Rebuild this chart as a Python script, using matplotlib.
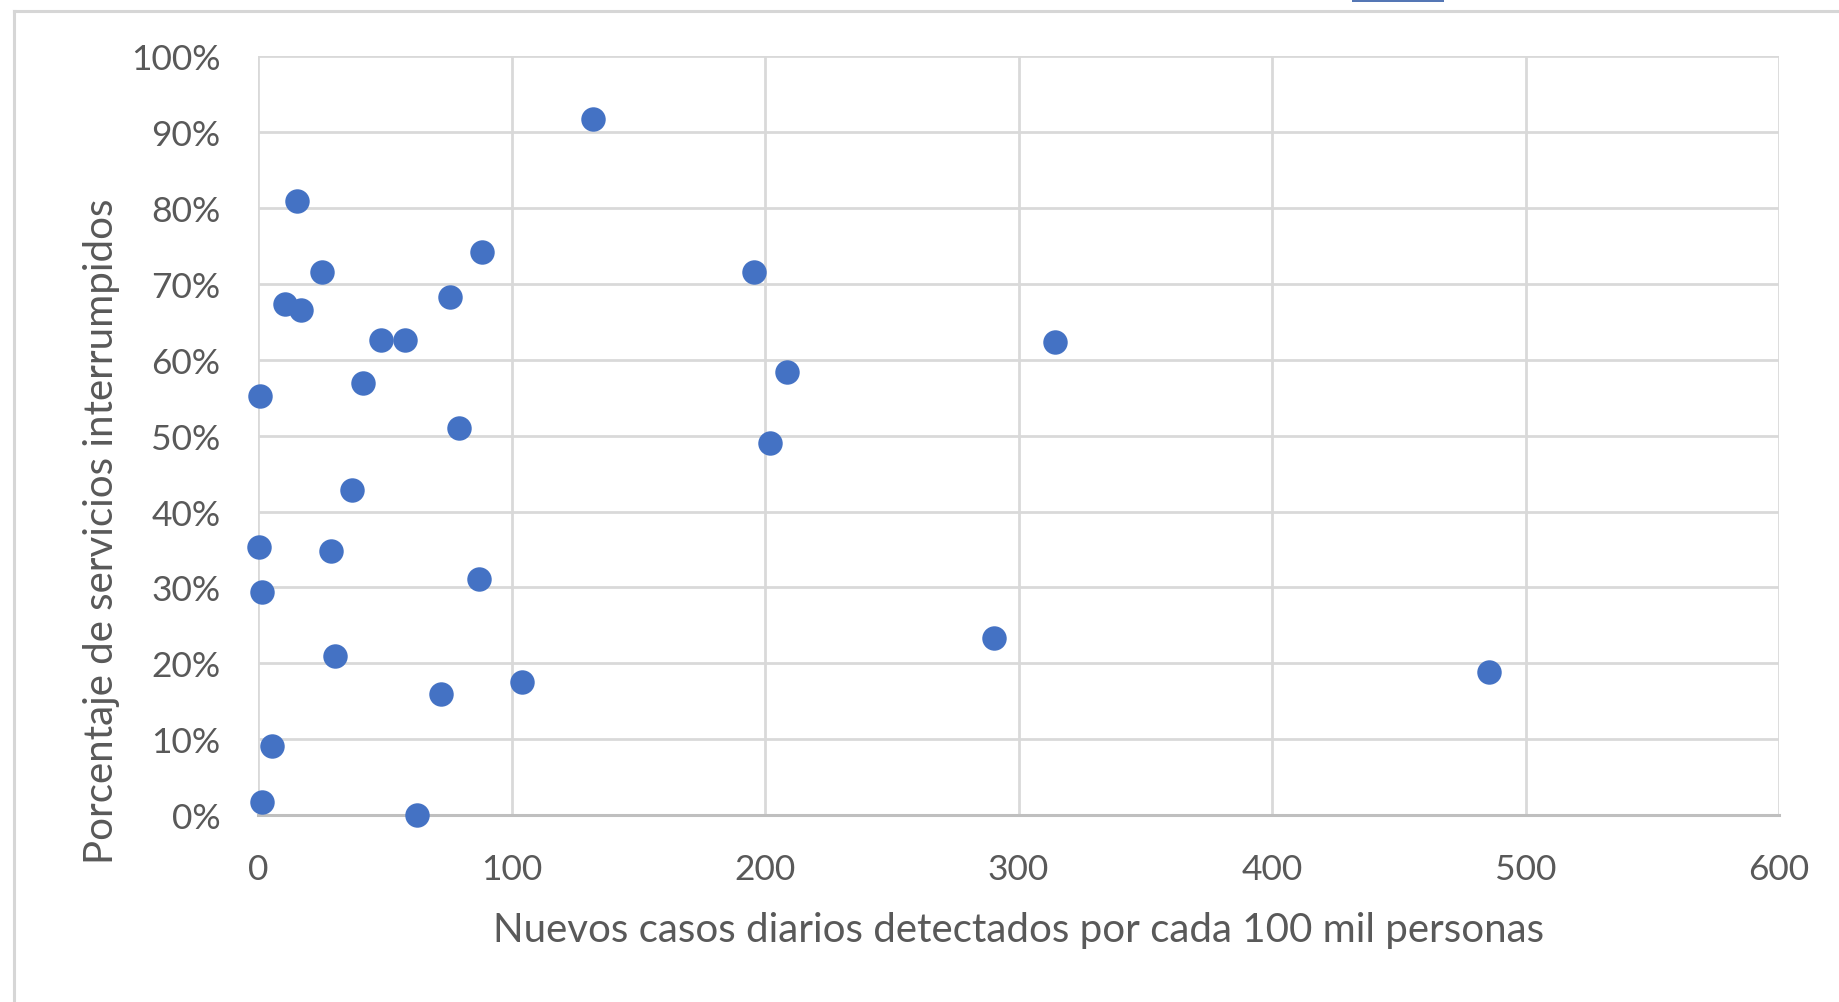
import matplotlib.pyplot as plt
from matplotlib.lines import Line2D
from matplotlib.patches import Rectangle
from matplotlib.ticker import FuncFormatter

plt.rcParams['font.family'] = ['Lato', 'DejaVu Sans']

# nuevos casos diarios por 100 mil personas vs. % de servicios interrumpidos
casos = [132.3, 15.3, 25.4, 88.3, 10.6, 17.1, 75.9, 48.6, 57.8, 41.6,
         0.9, 79.1, 37.0, 0.5, 28.7, 1.4, 87.0, 30.5, 72.2, 104.1,
         5.6, 1.4, 62.9, 195.7, 208.6, 202.1, 314.5, 290.5, 485.7]
interrumpidos = [91.7, 81.0, 71.6, 74.2, 67.4, 66.6, 68.3, 62.6, 62.6, 57.0,
                 55.3, 51.0, 42.8, 35.4, 34.8, 29.4, 31.1, 20.9, 15.9, 17.6,
                 9.1, 1.7, 0.0, 71.6, 58.4, 49.1, 62.4, 23.3, 18.9]

x_ticks = [0, 100, 200, 300, 400, 500, 600]
y_ticks = [0, 10, 20, 30, 40, 50, 60, 70, 80, 90, 100]

grid_col = '#D9D9D9'
text_col = '#595959'
punto_col = '#4472C4'

fig = plt.figure(figsize=(18.39, 10.03), dpi=100)
ax = fig.add_axes([0.1403, 0.1864, 0.8271, 0.7563])

ax.scatter(casos, interrumpidos, s=310, color=punto_col, zorder=3, clip_on=False,
           linewidths=0)

ax.set_xlim(0, 600)
ax.set_ylim(0, 100)
ax.set_xticks(x_ticks)
ax.set_yticks(y_ticks)
ax.yaxis.set_major_formatter(FuncFormatter(lambda v, _: f'{v:.0f}%'))
ax.grid(True, color=grid_col, linewidth=2.0, zorder=0)
ax.set_axisbelow(True)

for side in ['top', 'right', 'left']:
    ax.spines[side].set_visible(False)
ax.spines['bottom'].set_color('#BFBFBF')
ax.spines['bottom'].set_linewidth(2.2)

ax.tick_params(axis='both', length=0, labelsize=25.5, labelcolor=text_col)
ax.tick_params(axis='y', pad=27)
ax.tick_params(axis='x', pad=27)

ax.set_xlabel('Nuevos casos diarios detectados por cada 100 mil personas',
              fontsize=29, color=text_col, labelpad=19)
fig.text(0.055, 0.47, 'Porcentaje de servicios interrumpidos', rotation=90,
         fontsize=29, color=text_col, ha='center', va='center')

# marco gris exterior y barra azul superior
fig.add_artist(Line2D([14 / 1839, 1], [1 - 12 / 1003] * 2, color='#D6D6D6', lw=2.2))
fig.add_artist(Line2D([14 / 1839] * 2, [0, 1 - 12 / 1003], color='#D6D6D6', lw=2.2))
fig.add_artist(Rectangle((1352 / 1839, 1 - 3 / 1003), 92 / 1839, 3 / 1003,
                         color='#5577B5', lw=0))

fig.savefig('out.png', dpi=100, facecolor='white')
